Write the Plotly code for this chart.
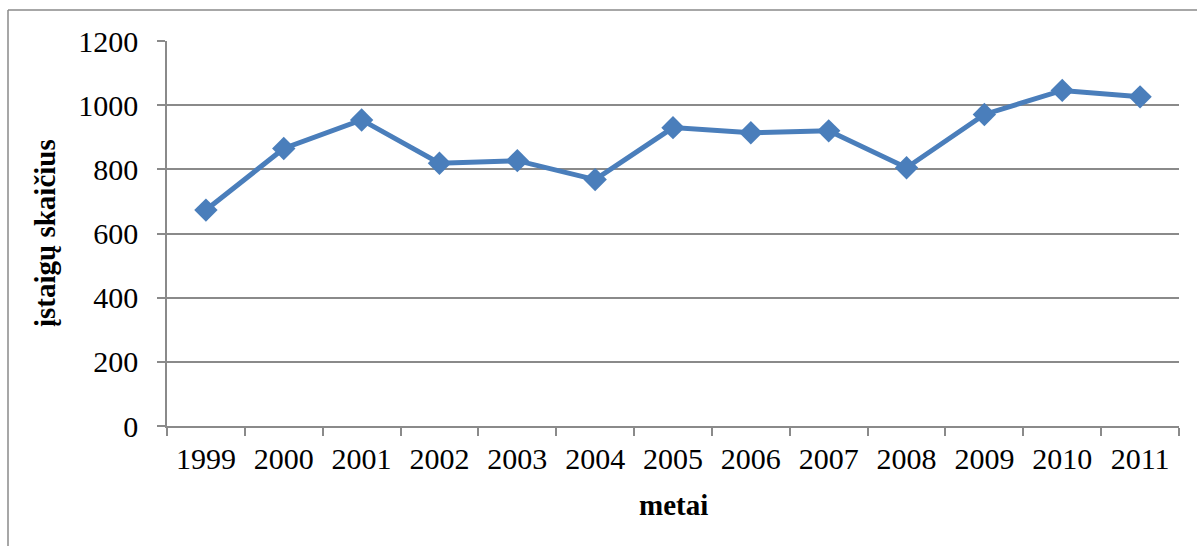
import plotly.graph_objects as go

years = ["1999", "2000", "2001", "2002", "2003", "2004", "2005",
         "2006", "2007", "2008", "2009", "2010", "2011"]
counts = [673, 865, 954, 819, 827, 768, 930, 914, 920, 805, 971, 1046, 1026]
y_ticks = [0, 200, 400, 600, 800, 1000, 1200]

W, H = 1197, 546
L, R, T, B = 167, 18, 41, 120
pw, ph = W - L - R, H - T - B

def px_to_paper_x(px):
    return (px - L) / pw

def px_to_paper_y(py):
    return (H - B - py) / ph

serif = "Liberation Serif, Times New Roman, serif"
grey = "#8a8a8a"

fig = go.Figure()
fig.add_trace(go.Scatter(
    x=years, y=counts, mode="lines+markers",
    line=dict(color="#4A7EBB", width=5),
    marker=dict(symbol="diamond", size=18, color="#4A7EBB"),
    hoverinfo="x+y", showlegend=False,
))

fig.update_layout(
    width=W, height=H,
    margin=dict(l=L, r=R, t=T, b=B),
    paper_bgcolor="white", plot_bgcolor="white",
    font=dict(family=serif, color="black", size=30),
    xaxis=dict(
        type="category", range=[-0.5, len(years) - 0.5],
        tickson="boundaries", ticks="outside",
        ticklen=8, tickcolor=grey, tickwidth=1.5,
        showline=True, linecolor=grey, linewidth=1.5,
        showgrid=False, tickfont=dict(size=30),
        ticklabelstandoff=5,
    ),
    yaxis=dict(
        range=[0, 1200], tickvals=y_ticks, ticks="outside",
        ticklen=8, tickcolor=grey, tickwidth=1.5,
        showline=True, linecolor=grey, linewidth=1.5,
        showgrid=True, gridcolor=grey, gridwidth=1.5,
        zeroline=False, tickfont=dict(size=30),
        ticklabelstandoff=13,
    ),
    annotations=[
        dict(text="<b>metai</b>", xref="paper", yref="paper",
             x=0.5, y=px_to_paper_y(505), xanchor="center", yanchor="middle",
             showarrow=False, font=dict(size=29, family=serif)),
        dict(text="<b>įstaigų skaičius</b>", xref="paper", yref="paper",
             x=px_to_paper_x(45), y=px_to_paper_y(233), textangle=-90,
             xanchor="center", yanchor="middle",
             showarrow=False, font=dict(size=29, family=serif)),
    ],
    shapes=[
        dict(type="line", xref="paper", yref="paper",
             x0=px_to_paper_x(8), x1=px_to_paper_x(8),
             y0=px_to_paper_y(10), y1=px_to_paper_y(560),
             line=dict(color=grey, width=1.5)),
        dict(type="line", xref="paper", yref="paper",
             x0=px_to_paper_x(8), x1=px_to_paper_x(1210),
             y0=px_to_paper_y(10), y1=px_to_paper_y(10),
             line=dict(color=grey, width=1.5)),
    ],
)

fig.write_html("out.html")
